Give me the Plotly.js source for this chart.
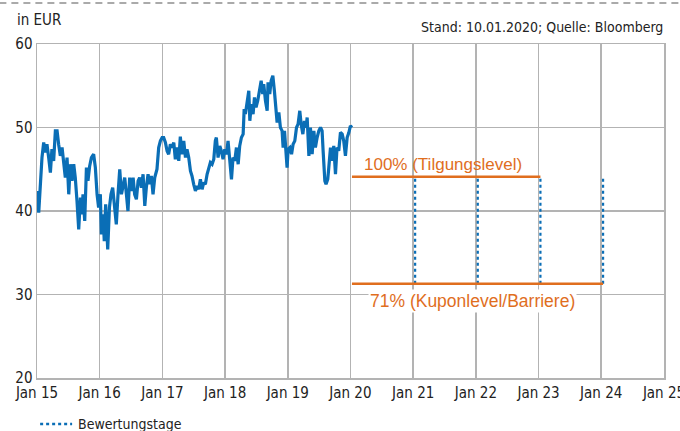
<!DOCTYPE html>
<html>
<head>
<meta charset="utf-8">
<script src="https://cdn.plot.ly/plotly-3.0.1.min.js"></script>
<style>html,body{margin:0;padding:0;background:#fff;}#chart{width:680px;height:431px;}</style>
</head>
<body>
<div id="chart"></div>
<script>
// Share price (EUR)
const priceDates = [
"2015-01-01","2015-01-11","2015-01-30","2015-02-09","2015-02-19","2015-02-28","2015-03-10","2015-03-20","2015-03-29","2015-04-08",
"2015-04-18","2015-04-28","2015-05-07","2015-05-17","2015-05-27","2015-06-05","2015-06-15","2015-06-25","2015-07-05","2015-07-14",
"2015-07-24","2015-08-03","2015-08-12","2015-08-22","2015-09-01","2015-09-11","2015-09-20","2015-09-26","2015-10-06","2015-10-16",
"2015-10-25","2015-11-04","2015-11-14","2015-11-27","2015-12-07","2015-12-17","2015-12-26","2016-01-05","2016-01-11","2016-01-21",
"2016-01-28","2016-02-05","2016-02-17","2016-02-27","2016-03-07","2016-03-17","2016-03-27","2016-04-07","2016-04-17","2016-04-27",
"2016-05-07","2016-05-16","2016-05-26","2016-06-05","2016-06-14","2016-06-24","2016-07-04","2016-07-14","2016-07-23","2016-08-02",
"2016-08-12","2016-08-21","2016-08-31","2016-09-10","2016-09-20","2016-09-29","2016-10-09","2016-10-19","2016-10-28","2016-11-07",
"2016-11-17","2016-11-30","2016-12-10","2016-12-20","2016-12-30","2017-01-08","2017-01-18","2017-01-28","2017-02-06","2017-02-16",
"2017-02-26","2017-03-08","2017-03-17","2017-03-27","2017-04-06","2017-04-15","2017-04-25","2017-05-05","2017-05-15","2017-05-24",
"2017-06-03","2017-06-13","2017-06-22","2017-07-02","2017-07-12","2017-07-22","2017-07-31","2017-08-10","2017-08-20","2017-08-29",
"2017-09-08","2017-09-18","2017-09-27","2017-10-07","2017-10-17","2017-10-27","2017-11-05","2017-11-11","2017-11-21","2017-12-01",
"2017-12-10","2017-12-20","2017-12-30","2018-01-09","2018-01-18","2018-01-28","2018-02-07","2018-02-16","2018-02-26","2018-03-08",
"2018-03-18","2018-03-27","2018-04-06","2018-04-16","2018-04-22","2018-04-29","2018-05-09","2018-05-19","2018-05-25","2018-06-03",
"2018-06-13","2018-06-21","2018-06-30","2018-07-10","2018-07-20","2018-07-30","2018-08-08","2018-08-14","2018-08-24","2018-09-03",
"2018-09-08","2018-09-18","2018-09-26","2018-10-06","2018-10-15","2018-10-23","2018-10-31","2018-11-10","2018-11-19","2018-11-29",
"2018-12-05","2018-12-13","2018-12-20","2018-12-28","2019-01-03","2019-01-13","2019-01-23","2019-02-01","2019-02-11","2019-02-21",
"2019-03-02","2019-03-12","2019-03-20","2019-03-30","2019-04-08","2019-04-18","2019-04-24","2019-05-04","2019-05-13","2019-05-23",
"2019-06-02","2019-06-11","2019-06-21","2019-07-01","2019-07-11","2019-07-20","2019-07-26","2019-08-05","2019-08-12","2019-08-22",
"2019-08-28","2019-09-07","2019-09-16","2019-09-26","2019-10-06","2019-10-15","2019-10-25","2019-11-04","2019-11-14","2019-11-23",
"2019-12-03","2019-12-13","2019-12-23","2020-01-01","2020-01-10"
];
const priceValues = [
42.4,39.8,46.4,48.2,47.0,48.0,46.4,44.6,47.4,46.0,
49.6,49.6,48.0,46.6,47.6,46.0,44.0,46.4,42.0,45.6,
43.6,45.6,44.0,41.2,37.8,41.6,39.6,42.0,38.8,45.2,
43.6,45.4,46.4,46.8,45.2,42.0,40.4,42.0,37.2,39.6,
36.4,40.8,35.4,40.4,42.0,42.8,40.8,38.4,42.0,45.0,
42.0,43.2,44.0,42.0,40.0,44.0,42.4,44.0,42.0,41.4,
43.6,44.0,42.8,44.4,40.6,42.8,44.4,43.2,44.2,42.0,
44.0,45.0,47.6,48.4,48.8,48.8,48.2,47.2,46.8,48.0,
47.6,48.2,46.2,47.6,46.0,48.9,46.8,48.4,46.4,47.4,
46.4,44.8,44.2,43.2,42.4,43.0,42.6,43.8,42.6,43.4,
43.2,44.4,45.2,45.8,45.6,46.2,48.4,48.8,46.4,47.8,
47.2,46.2,47.4,46.8,48.4,46.0,43.8,46.4,46.0,47.6,
45.6,47.8,48.8,49.2,52.2,51.6,52.8,54.4,50.8,52.8,
51.6,53.6,52.4,53.2,54.4,55.6,54.0,55.2,53.2,52.0,
55.4,54.0,55.6,56.2,54.4,52.8,50.6,51.8,50.0,49.6,
47.6,49.6,46.8,45.2,47.4,47.6,46.8,48.0,48.4,50.0,
50.4,52.0,50.4,49.2,50.8,50.0,51.2,46.6,50.0,46.8,
49.6,47.6,48.8,49.6,50.0,49.6,47.2,43.6,43.2,43.8,
45.2,47.6,46.0,47.8,44.4,47.6,47.2,49.4,49.2,48.4,
46.6,48.8,49.4,50.2,50.0
];

// Levels of the product
const startDate = "2020-01-10";
const tilgungLevel = 44.1;     // 100 %
const barrierLevel = 31.3;     // 71 %
const observationDates = ["2021-01-12","2022-01-12","2023-01-12","2024-01-12"];
const tilgungEnd = "2023-01-12";
const barrierEnd = "2024-01-12";

const yearTicks = ["2015-01-01","2016-01-01","2017-01-01","2018-01-01","2019-01-01","2020-01-01","2021-01-01","2022-01-01","2023-01-01","2024-01-01","2025-01-01"];
const yearLabels = ["Jan 15","Jan 16","Jan 17","Jan 18","Jan 19","Jan 20","Jan 21","Jan 22","Jan 23","Jan 24","Jan 25"];

const labelTilgung = "100% (Tilgungslevel)";
const labelBarrier = "71% (Kuponlevel/Barriere)";
const legendLabel = "Bewertungstage";

const BLUE = "#0a6eb6";
const ORANGE = "#e06e1e";
const GRID = "#b3b3b3";
const NARROW = "'Liberation Sans Narrow','DejaVu Sans Condensed','Arial Narrow',sans-serif";
const REG = "'Liberation Sans',Arial,sans-serif";

const obsX = [], obsY = [];
observationDates.forEach(d => { obsX.push(d, d, null); obsY.push(barrierLevel, tilgungLevel, null); });

const traces = [
  {x: priceDates, y: priceValues, type: "scatter", mode: "lines",
   line: {color: BLUE, width: 3.2}, hoverinfo: "skip"},
  {x: obsX, y: obsY, type: "scatter", mode: "lines", name: legendLabel,
   line: {color: BLUE, width: 2.2, dash: "dot"}, hoverinfo: "skip"},
  {x: [startDate, tilgungEnd], y: [tilgungLevel, tilgungLevel], type: "scatter", mode: "lines",
   line: {color: ORANGE, width: 2.5}, hoverinfo: "skip"},
  {x: [startDate, barrierEnd], y: [barrierLevel, barrierLevel], type: "scatter", mode: "lines",
   line: {color: ORANGE, width: 2.5}, hoverinfo: "skip"}
];

const layout = {
  width: 680, height: 431,
  margin: {l: 37, r: 16, t: 44, b: 53},
  paper_bgcolor: "#fff", plot_bgcolor: "#fff",
  font: {family: NARROW, size: 14, color: "#222"},
  showlegend: false,
  xaxis: {
    type: "date", range: ["2015-01-01", "2025-01-01"],
    tickmode: "array", tickvals: yearTicks, ticktext: yearLabels,
    showgrid: true, gridcolor: GRID, gridwidth: 1.5,
    showline: true, linecolor: GRID, linewidth: 1.5, mirror: true,
    ticks: "", zeroline: false, ticklabeloverflow: "allow",
    tickfont: {family: NARROW, size: 15, color: "#222"}
  },
  yaxis: {
    range: [20, 60], tickvals: [20, 30, 40, 50, 60], ticktext: ["20","30","40","50","60"],
    showgrid: true, gridcolor: GRID, gridwidth: 1.5,
    showline: true, linecolor: GRID, linewidth: 1.5, mirror: true,
    ticks: "", zeroline: false, tickfont: {family: NARROW, size: 15, color: "#222"}
  },
  shapes: [
    {type: "line", xref: "paper", yref: "paper", x0: -0.06, x1: 1.03, y0: 1.1228, y1: 1.1228,
     line: {color: "#aaaaaa", width: 2, dash: "7px,5px"}},
    {type: "line", xref: "paper", yref: "paper", x0: 0.005, x1: 0.056, y0: -0.1377, y1: -0.1377,
     line: {color: BLUE, width: 2.5, dash: "3px,3px"}}
  ],
  annotations: [
    {xref: "paper", yref: "paper", x: -0.035, y: 1.072, xanchor: "left", yanchor: "middle",
     text: "in EUR", showarrow: false, font: {family: NARROW, size: 15, color: "#222"}},
    {xref: "paper", yref: "paper", x: 1.002, y: 1.051, xanchor: "right", yanchor: "middle",
     text: "Stand: 10.01.2020; Quelle: Bloomberg", showarrow: false, font: {family: NARROW, size: 14, color: "#222"}},
    {x: "2021-06-24", y: tilgungLevel, yanchor: "bottom", xanchor: "center", yshift: 1,
     text: labelTilgung, showarrow: false, font: {family: REG, size: 17, color: ORANGE}},
    {x: "2021-12-15", y: barrierLevel, yanchor: "top", xanchor: "center", yshift: -5,
     text: labelBarrier, showarrow: false, bgcolor: "#fff", borderpad: 1,
     font: {family: REG, size: 17.5, color: ORANGE}},
    {xref: "paper", yref: "paper", x: 0.062, y: -0.1377, xanchor: "left", yanchor: "middle",
     text: legendLabel, showarrow: false, font: {family: NARROW, size: 14, color: "#222"}}
  ]
};

Plotly.newPlot("chart", traces, layout, {staticPlot: true, displayModeBar: false});
</script>
</body>
</html>
